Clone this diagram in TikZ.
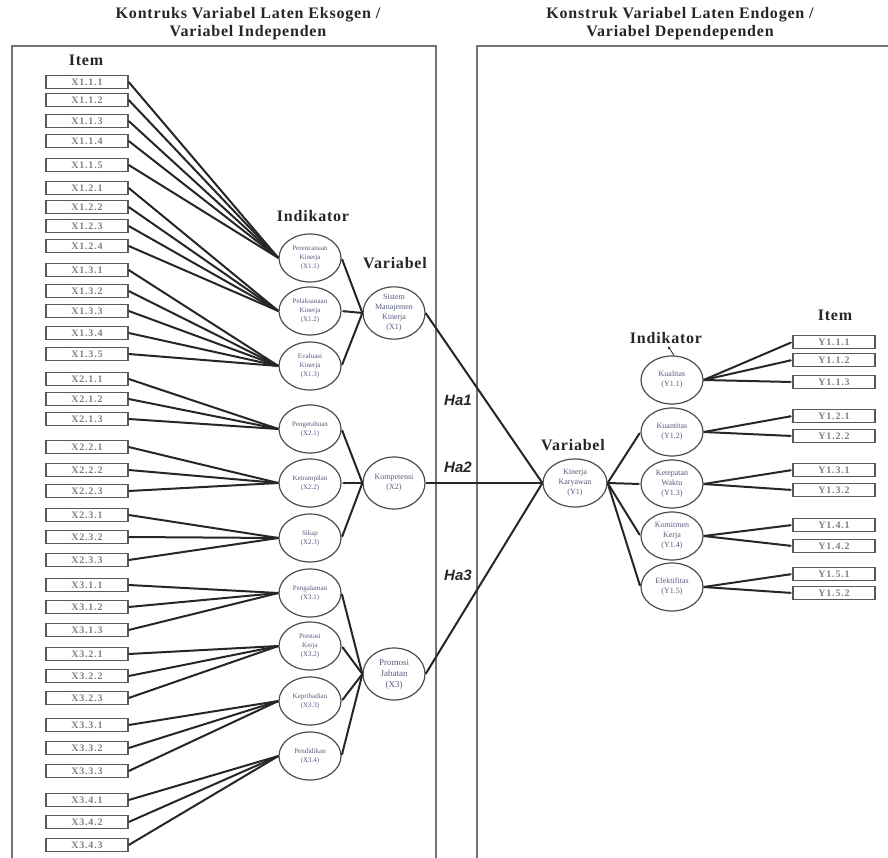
\documentclass[tikz,border=0pt]{standalone}
\usepackage{fontspec}
\setmainfont{Liberation Serif}
\newfontfamily\hafont{Liberation Sans}
\newfontfamily\headfont[LetterSpace=5]{Liberation Serif}
\newfontfamily\itemfont[LetterSpace=8]{Liberation Serif}
\usetikzlibrary{shapes.geometric, arrows.meta}
\definecolor{inkblue}{RGB}{85,90,125}

\begin{document}
\begin{tikzpicture}
	  [x=1pt, y=-1pt,
	  %
	  frame/.style={draw=black!55, line width=1.3pt},
	  %
	  heading/.style={font=\fontsize{16}{18}\headfont\bfseries, align=center, text=black!85},
	  %
	  item/.style={rectangle, draw=black!65, line width=1.4pt, minimum width=82pt, minimum height=13pt, inner sep=0pt, font=\fontsize{10}{11}\itemfont\bfseries, text=black!50},
	  %
	  indik/.style={ellipse, draw=black!70, line width=1.2pt, minimum width=62pt, minimum height=48pt, inner sep=0pt, align=center, font=\fontsize{7}{9}\selectfont, text=inkblue},
	  %
	  varbl/.style={indik, minimum height=52pt, font=\fontsize{8}{10}\selectfont},
	  %
	  customline/.style={draw=black!85, line width=2pt},
	  %
	  customtip/.style={customline, arrows={-Latex[length=3pt, width=3pt]}},
	  %
	  hyp/.style={font=\fontsize{15}{17}\hafont\bfseries\itshape, text=black!85}]

	    \useasboundingbox (0,0) rectangle (888,858);

	    % the two construct frames
	    \draw [frame] (12,858) |- (436,46) -- (436,858);
	    \draw [frame] (477,858) |- (888,46);

	    \node [heading] (titlex) at (248,24) {Kontruks Variabel Laten Eksogen /\\ Variabel Independen};
	    \node [heading] (titley) at (680,24) {Konstruk Variabel Laten Endogen /\\ Variabel Dependependen};
	    \node [heading] (itemx) at (86,60) {Item};
	    \node [heading] (indx) at (313,216) {Indikator};
	    \node [heading] (varx) at (395,263) {Variabel};
	    \node [heading] (vary) at (573,445) {Variabel};
	    \node [heading] (indy) at (666,338) {Indikator};
	    \node [heading] (itemy) at (835,315) {Item};

	    % items X1
	    \node [item] (x111) at (87,82) {X1.1.1};
	    \node [item] (x112) at (87,100) {X1.1.2};
	    \node [item] (x113) at (87,121) {X1.1.3};
	    \node [item] (x114) at (87,141) {X1.1.4};
	    \node [item] (x115) at (87,165) {X1.1.5};
	    \node [item] (x121) at (87,188) {X1.2.1};
	    \node [item] (x122) at (87,207) {X1.2.2};
	    \node [item] (x123) at (87,226) {X1.2.3};
	    \node [item] (x124) at (87,246) {X1.2.4};
	    \node [item] (x131) at (87,270) {X1.3.1};
	    \node [item] (x132) at (87,291) {X1.3.2};
	    \node [item] (x133) at (87,311) {X1.3.3};
	    \node [item] (x134) at (87,333) {X1.3.4};
	    \node [item] (x135) at (87,354) {X1.3.5};
	    % items X2
	    \node [item] (x211) at (87,379) {X2.1.1};
	    \node [item] (x212) at (87,399) {X2.1.2};
	    \node [item] (x213) at (87,419) {X2.1.3};
	    \node [item] (x221) at (87,447) {X2.2.1};
	    \node [item] (x222) at (87,470) {X2.2.2};
	    \node [item] (x223) at (87,491) {X2.2.3};
	    \node [item] (x231) at (87,515) {X2.3.1};
	    \node [item] (x232) at (87,537) {X2.3.2};
	    \node [item] (x233) at (87,560) {X2.3.3};
	    % items X3
	    \node [item] (x311) at (87,585) {X3.1.1};
	    \node [item] (x312) at (87,607) {X3.1.2};
	    \node [item] (x313) at (87,630) {X3.1.3};
	    \node [item] (x321) at (87,654) {X3.2.1};
	    \node [item] (x322) at (87,676) {X3.2.2};
	    \node [item] (x323) at (87,698) {X3.2.3};
	    \node [item] (x331) at (87,725) {X3.3.1};
	    \node [item] (x332) at (87,748) {X3.3.2};
	    \node [item] (x333) at (87,771) {X3.3.3};
	    \node [item] (x341) at (87,800) {X3.4.1};
	    \node [item] (x342) at (87,822) {X3.4.2};
	    \node [item] (x343) at (87,845) {X3.4.3};

	    % indicators X
	    \node [indik] (x11) at (310,258) {Perencanaan\\ Kinerja\\ (X1.1)};
	    \node [indik] (x12) at (310,311) {Pelaksanaan\\ Kinerja\\ (X1.2)};
	    \node [indik] (x13) at (310,366) {Evaluasi\\ Kinerja\\ (X1.3)};
	    \node [indik] (x21) at (310,429) {Pengetahuan\\ (X2.1)};
	    \node [indik] (x22) at (310,483) {Ketrampilan\\ (X2.2)};
	    \node [indik] (x23) at (310,538) {Sikap\\ (X2.3)};
	    \node [indik] (x31) at (310,593) {Pengalaman\\ (X3.1)};
	    \node [indik] (x32) at (310,646) {Prestasi\\ Kerja\\ (X3.2)};
	    \node [indik] (x33) at (310,701) {Kepribadian\\ (X3.3)};
	    \node [indik] (x34) at (310,756) {Pendidikan\\ (X3.4)};

	    % variables
	    \node [varbl] (x1) at (394,313) {Sistem\\ Manajemen\\ Kinerja\\ (X1)};
	    \node [varbl] (x2) at (394,483) {Kompetensi\\ (X2)};
	    \node [varbl, font=\fontsize{9}{11}\selectfont] (x3) at (394,674) {Promosi\\ Jabatan\\ (X3)};
	    \node [varbl, minimum width=64pt, minimum height=48pt] (y1) at (575,483) {Kinerja\\ Karyawan\\ (Y1)};

	    % indicators Y
	    \node [indik, font=\fontsize{8}{10}\selectfont] (y11) at (672,380) {Kualitas\\ (Y1.1)};
	    \node [indik, font=\fontsize{8}{10}\selectfont] (y12) at (672,432) {Kuantitas\\ (Y1.2)};
	    \node [indik, font=\fontsize{8}{10}\selectfont] (y13) at (672,484) {Ketepatan\\ Waktu\\ (Y1.3)};
	    \node [indik, font=\fontsize{8}{10}\selectfont] (y14) at (672,536) {Komitmen\\ Kerja\\ (Y1.4)};
	    \node [indik, font=\fontsize{8}{10}\selectfont] (y15) at (672,587) {Efektifitas\\ (Y1.5)};

	    % items Y
	    \node [item] (y111) at (834,342) {Y1.1.1};
	    \node [item] (y112) at (834,360) {Y1.1.2};
	    \node [item] (y113) at (834,382) {Y1.1.3};
	    \node [item] (y121) at (834,416) {Y1.2.1};
	    \node [item] (y122) at (834,436) {Y1.2.2};
	    \node [item] (y131) at (834,470) {Y1.3.1};
	    \node [item] (y132) at (834,490) {Y1.3.2};
	    \node [item] (y141) at (834,525) {Y1.4.1};
	    \node [item] (y142) at (834,546) {Y1.4.2};
	    \node [item] (y151) at (834,574) {Y1.5.1};
	    \node [item] (y152) at (834,593) {Y1.5.2};

	    \node [hyp] (ha1) at (458,400) {Ha1};
	    \node [hyp] (ha2) at (458,467) {Ha2};
	    \node [hyp] (ha3) at (458,575) {Ha3};

	    % item lines X
	    \draw [customline] (x111.east) -- (x11.west);
	    \draw [customline] (x112.east) -- (x11.west);
	    \draw [customline] (x113.east) -- (x11.west);
	    \draw [customline] (x114.east) -- (x11.west);
	    \draw [customline] (x115.east) -- (x11.west);
	    \draw [customline] (x121.east) -- (x12.west);
	    \draw [customline] (x122.east) -- (x12.west);
	    \draw [customline] (x123.east) -- (x12.west);
	    \draw [customline] (x124.east) -- (x12.west);
	    \draw [customline] (x131.east) -- (x13.west);
	    \draw [customline] (x132.east) -- (x13.west);
	    \draw [customline] (x133.east) -- (x13.west);
	    \draw [customline] (x134.east) -- (x13.west);
	    \draw [customline] (x135.east) -- (x13.west);
	    \draw [customline] (x211.east) -- (x21.west);
	    \draw [customline] (x212.east) -- (x21.west);
	    \draw [customline] (x213.east) -- (x21.west);
	    \draw [customline] (x221.east) -- (x22.west);
	    \draw [customline] (x222.east) -- (x22.west);
	    \draw [customline] (x223.east) -- (x22.west);
	    \draw [customline] (x231.east) -- (x23.west);
	    \draw [customline] (x232.east) -- (x23.west);
	    \draw [customline] (x233.east) -- (x23.west);
	    \draw [customline] (x311.east) -- (x31.west);
	    \draw [customline] (x312.east) -- (x31.west);
	    \draw [customline] (x313.east) -- (x31.west);
	    \draw [customline] (x321.east) -- (x32.west);
	    \draw [customline] (x322.east) -- (x32.west);
	    \draw [customline] (x323.east) -- (x32.west);
	    \draw [customline] (x331.east) -- (x33.west);
	    \draw [customline] (x332.east) -- (x33.west);
	    \draw [customline] (x333.east) -- (x33.west);
	    \draw [customline] (x341.east) -- (x34.west);
	    \draw [customline] (x342.east) -- (x34.west);
	    \draw [customline] (x343.east) -- (x34.west);

	    % variable to indicator X
	    \draw [customtip] (x1.west) -- (x11.east);
	    \draw [customtip] (x1.west) -- (x12.east);
	    \draw [customtip] (x1.west) -- (x13.east);
	    \draw [customtip] (x2.west) -- (x21.east);
	    \draw [customtip] (x2.west) -- (x22.east);
	    \draw [customtip] (x2.west) -- (x23.east);
	    \draw [customtip] (x3.west) -- (x31.east);
	    \draw [customtip] (x3.west) -- (x32.east);
	    \draw [customtip] (x3.west) -- (x33.east);
	    \draw [customtip] (x3.west) -- (x34.east);

	    % hypotheses
	    \draw [customline] (x1.east) -- (y1.west);
	    \draw [customline] (x2.east) -- (y1.west);
	    \draw [customline] (x3.east) -- (y1.west);

	    % variable to indicator Y
	    \draw [customtip] (y1.east) -- (y12.west);
	    \draw [customtip] (y1.east) -- (y13.west);
	    \draw [customtip] (y1.east) -- (y14.west);
	    \draw [customtip] (y1.east) -- (y15.west);
	    \draw [customtip, line width=0.8pt] ([xshift=2pt]y11.north) -- ([xshift=2pt, yshift=1pt]indy.south);

	    % item lines Y
	    \draw [customtip] (y11.east) -- (y111.west);
	    \draw [customtip] (y11.east) -- (y112.west);
	    \draw [customtip] (y11.east) -- (y113.west);
	    \draw [customtip] (y12.east) -- (y121.west);
	    \draw [customtip] (y12.east) -- (y122.west);
	    \draw [customtip] (y13.east) -- (y131.west);
	    \draw [customtip] (y13.east) -- (y132.west);
	    \draw [customtip] (y14.east) -- (y141.west);
	    \draw [customtip] (y14.east) -- (y142.west);
	    \draw [customtip] (y15.east) -- (y151.west);
	    \draw [customtip] (y15.east) -- (y152.west);
	  \end{tikzpicture}
\end{document}
